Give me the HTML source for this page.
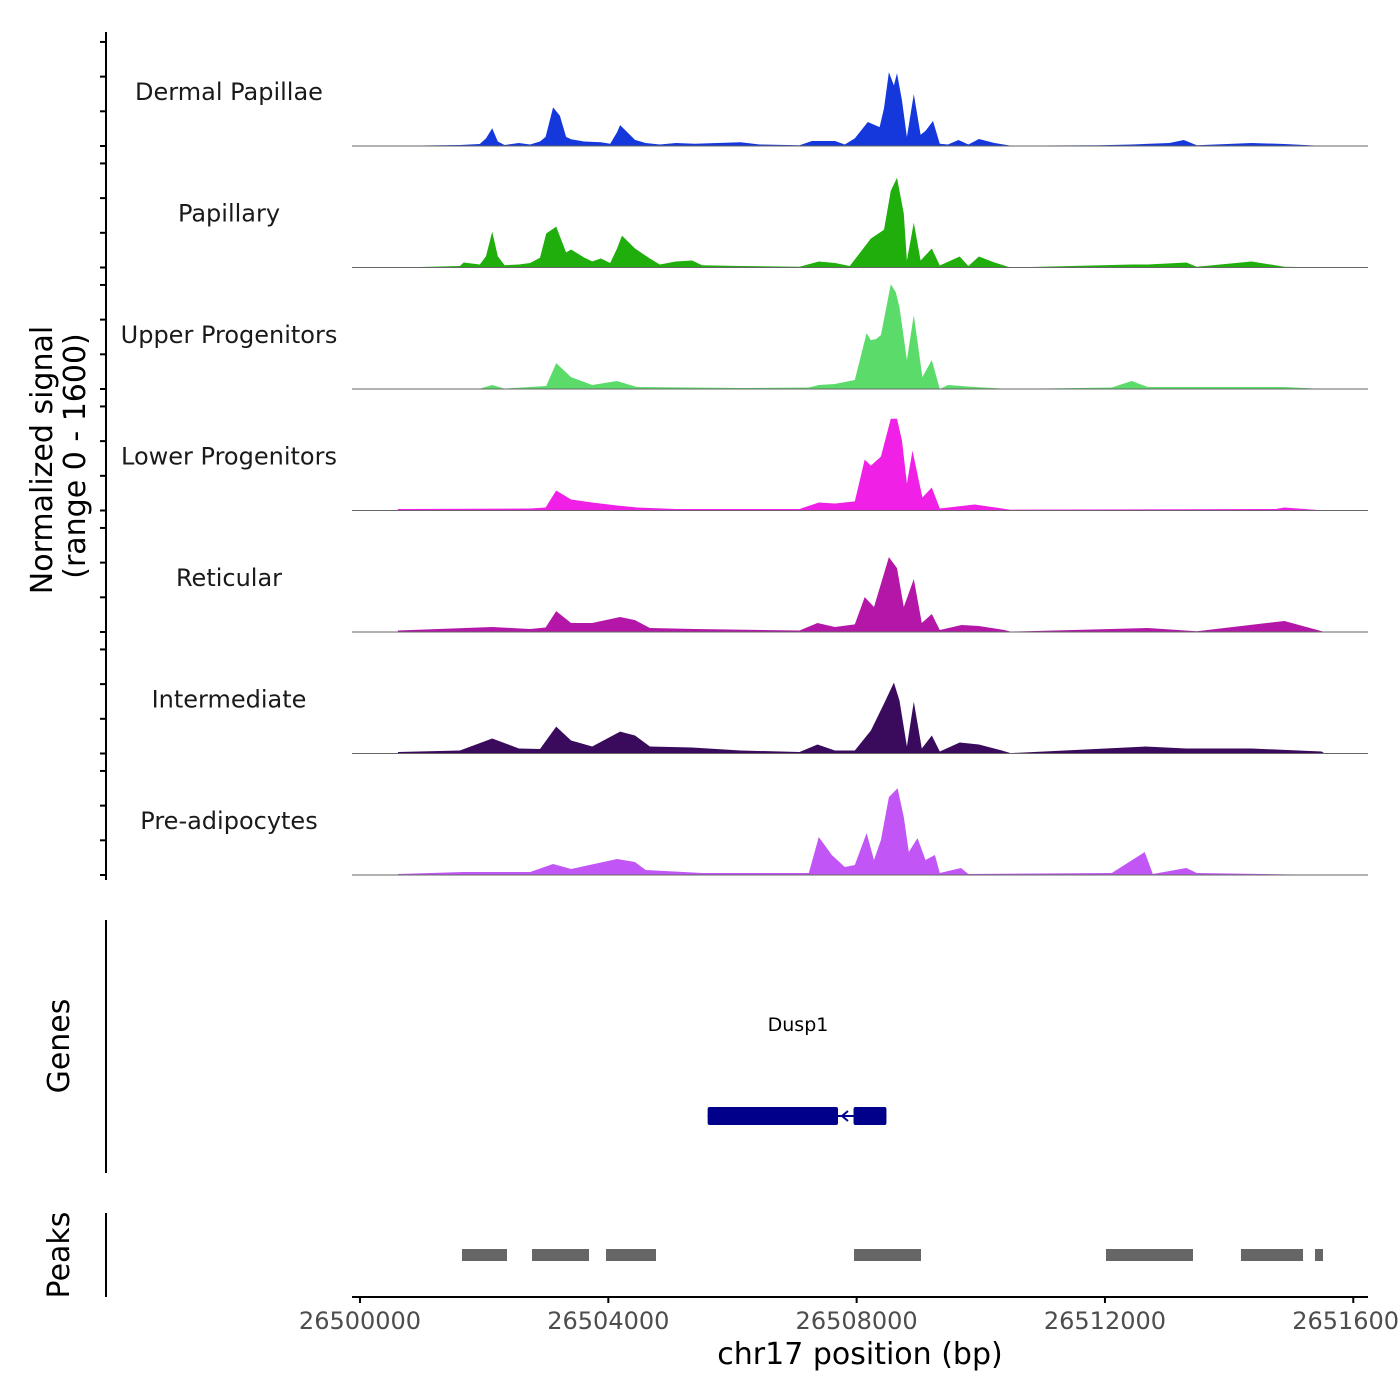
<!DOCTYPE html>
<html><head><meta charset="utf-8"><style>
body{margin:0;background:#fff;}
svg{display:block;font-family:"DejaVu Sans","Liberation Sans",sans-serif;}
</style></head><body>
<svg id="chart" width="1400" height="1400" viewBox="0 0 1400 1400" xmlns="http://www.w3.org/2000/svg">
<g id="tracks"></g>
<g id="yaxis"></g>
<text transform="translate(52,460) rotate(-90)" text-anchor="middle" font-size="30" fill="#000">Normalized signal</text>
<text transform="translate(85,456) rotate(-90)" text-anchor="middle" font-size="30" fill="#000">(range 0 - 1600)</text>
<line x1="106" y1="920" x2="106" y2="1173" stroke="#000" stroke-width="2"/>
<text transform="translate(69,1046) rotate(-90)" text-anchor="middle" font-size="30">Genes</text>
<g id="genes"></g>
<line x1="106" y1="1213" x2="106" y2="1297" stroke="#000" stroke-width="2"/>
<text transform="translate(69,1255) rotate(-90)" text-anchor="middle" font-size="30">Peaks</text>
<g id="peaks"></g>
<g id="xaxis"></g>
<text x="860" y="1364" text-anchor="middle" font-size="30">chr17 position (bp)</text>
</svg>
<script>
// ---- data ----
const trackNames = ["Dermal Papillae","Papillary","Upper Progenitors","Lower Progenitors","Reticular","Intermediate","Pre-adipocytes"];
const trackColors = ["#1538dc","#1fae0c","#5bdc6a","#f020e6","#b416a8","#3a0b5c","#c155f5"];
const dermalPapillae = [[0.61,0],[0.97,7],[1.61,13],[1.93,26],[2.03,100],[2.13,234],[2.22,60],[2.33,13],[2.56,40],[2.74,20],[2.90,60],[2.99,120],[3.11,510],[3.22,400],[3.32,120],[3.40,90],[3.61,60],[3.88,50],[4.03,30],[4.14,180],[4.19,277],[4.43,80],[4.60,40],[4.83,20],[5.09,40],[5.39,30],[6.13,50],[6.44,20],[7.08,10],[7.28,66],[7.65,66],[7.81,20],[7.97,100],[8.18,317],[8.37,250],[8.44,500],[8.52,977],[8.60,800],[8.65,964],[8.73,600],[8.81,119],[8.92,686],[9.03,150],[9.11,200],[9.23,330],[9.34,30],[9.47,20],[9.64,79],[9.80,20],[9.97,92],[10.22,40],[10.48,5],[11.91,10],[12.43,20],[13.04,40],[13.27,79],[13.48,10],[14.36,40],[14.89,26],[15.54,0]];
const papillary = [[0.61,0],[0.97,7],[1.61,20],[1.67,66],[1.93,40],[2.03,150],[2.13,475],[2.22,150],[2.33,30],[2.56,40],[2.74,60],[2.90,130],[3.00,450],[3.16,541],[3.32,200],[3.40,238],[3.61,132],[3.74,80],[3.88,119],[4.03,60],[4.14,250],[4.22,422],[4.43,251],[4.67,119],[4.83,40],[5.09,79],[5.35,92],[5.51,30],[6.13,20],[7.08,10],[7.39,79],[7.65,60],[7.89,20],[8.23,383],[8.44,500],[8.55,1016],[8.65,1188],[8.76,713],[8.81,92],[8.92,594],[9.03,92],[9.21,251],[9.34,26],[9.66,145],[9.80,20],[9.97,145],[10.22,66],[10.48,0],[12.43,40],[12.69,40],[13.31,66],[13.48,10],[14.36,79],[14.89,10],[15.54,0]];
const upperProgenitors = [[0.61,0],[1.93,5],[2.13,53],[2.33,5],[3.00,40],[3.16,343],[3.40,158],[3.74,53],[4.14,106],[4.46,26],[6.18,13],[7.23,20],[7.39,53],[7.65,66],[7.97,119],[8.16,739],[8.23,647],[8.31,660],[8.39,713],[8.55,1386],[8.63,1280],[8.69,1082],[8.81,383],[8.92,977],[9.06,158],[9.21,383],[9.34,0],[9.47,53],[9.90,26],[10.48,0],[12.11,20],[12.43,106],[12.69,26],[14.89,26],[15.54,0]];
const lowerProgenitors = [[0.61,20],[2.74,26],[2.99,40],[3.16,264],[3.40,145],[3.74,106],[4.14,66],[4.46,40],[5.09,20],[7.08,20],[7.39,106],[7.65,92],[7.97,120],[8.13,673],[8.23,594],[8.39,713],[8.55,1214],[8.65,1214],[8.73,924],[8.81,356],[8.90,792],[9.06,172],[9.21,304],[9.34,26],[9.90,79],[10.48,10],[14.75,20],[14.89,40],[15.54,0]];
const reticular = [[0.61,20],[2.13,66],[2.74,40],[2.99,60],[3.16,277],[3.40,119],[3.74,119],[4.19,198],[4.43,158],[4.67,53],[5.39,40],[7.08,20],[7.37,119],[7.65,66],[7.97,100],[8.13,462],[8.28,330],[8.52,990],[8.65,845],[8.76,330],[8.92,700],[9.05,119],[9.21,238],[9.34,26],[9.69,92],[9.97,79],[10.38,26],[10.48,5],[12.69,53],[13.48,10],[14.89,145],[15.54,0]];
const intermediate = [[0.61,20],[1.61,40],[2.13,198],[2.56,66],[2.90,60],[3.16,356],[3.40,172],[3.74,92],[4.19,290],[4.43,238],[4.67,92],[5.35,79],[6.13,40],[7.08,20],[7.37,119],[7.65,40],[7.97,40],[8.23,304],[8.44,660],[8.60,937],[8.69,700],[8.81,92],[8.92,686],[9.05,66],[9.21,238],[9.34,26],[9.66,145],[9.97,119],[10.34,40],[10.48,5],[12.65,92],[13.31,66],[14.36,66],[15.49,26],[15.54,0]];
const preAdipocytes = [[0.61,13],[1.67,40],[2.74,40],[3.11,145],[3.40,79],[4.14,211],[4.43,172],[4.60,66],[5.51,26],[7.23,26],[7.39,502],[7.60,264],[7.81,106],[7.97,132],[8.16,554],[8.28,198],[8.39,462],[8.52,1030],[8.66,1148],[8.76,766],[8.84,304],[8.98,488],[9.11,198],[9.26,264],[9.34,26],[9.68,92],[9.80,13],[12.11,26],[12.64,304],[12.77,13],[13.31,92],[13.48,26],[15.54,0]];
const trackData = [dermalPapillae,papillary,upperProgenitors,lowerProgenitors,reticular,intermediate,preAdipocytes];
const yTickValues = [0,500,1000,1500];
const xTicks = [26500000,26504000,26508000,26512000,26516000];
const xTickLabels = ["26500000","26504000","26508000","26512000","26516000"];
const peakStarts = [26501643,26502771,26503963,26507958,26512017,26514191,26515383];
const peakEnds = [26502368,26503689,26504768,26509037,26513418,26515190,26515512];
const geneName = "Dusp1";
const geneExons = [[26505600,26507700],[26507950,26508480]];
const geneStart = 26505600, geneEnd = 26508480;
const yMax = 1600;

// ---- scales ----
const NS="http://www.w3.org/2000/svg";
const X0=352, X1=1368;
function xs(bp){ return 360 + (bp-26500000)*0.06208; }
const trackH = 121.5, trackTop0 = 24.5;
function base(i){ return trackTop0 + (i+1)*trackH; }
function ys(i,v){ return base(i) - v/yMax*121; }
function yTick(i,v){ return base(i) - v/yMax*111; }
function mk(tag,attrs,parent){ const e=document.createElementNS(NS,tag); for(const k in attrs) e.setAttribute(k,attrs[k]); parent.appendChild(e); return e; }

const gT=document.getElementById('tracks');
trackData.forEach((d,i)=>{
  const g=mk('g',{},gT);
  
  
  let p='M'+xs(26500000+d[0][0]*1000).toFixed(1)+','+base(i);
  d.forEach(pt=>{ p+=' L'+xs(26500000+pt[0]*1000).toFixed(1)+','+ys(i,pt[1]).toFixed(1); });
  p+=' L'+xs(26500000+d[d.length-1][0]*1000).toFixed(1)+','+base(i)+' Z';
  const a=mk('path',{d:p,fill:trackColors[i]},g);
  
  
  const l=mk('line',{x1:X0,x2:X1,y1:base(i),y2:base(i),stroke:'#666','stroke-width':1},g);
  
  
  const t=mk('text',{x:229,y:base(i)-46,'text-anchor':'middle','font-size':24,fill:'#1a1a1a'},g);
  t.textContent=trackNames[i];
  
  
});

const gY=document.getElementById('yaxis');
const al=mk('line',{x1:106,x2:106,y1:32,y2:880,stroke:'#000','stroke-width':2},gY);


for(let i=0;i<7;i++){ yTickValues.forEach(v=>{ const y=yTick(i,v);
  const tk=mk('line',{x1:100,x2:106,y1:y,y2:y,stroke:'#000','stroke-width':2},gY);
  
  
});}

const gG=document.getElementById('genes');
const gl=mk('text',{x:798,y:1031,'text-anchor':'middle','font-size':19},gG);
gl.textContent=geneName;


const gi=mk('line',{x1:xs(geneStart),x2:xs(geneEnd),y1:1116,y2:1116,stroke:'#00008b','stroke-width':2},gG);


geneExons.forEach(e=>{
  const r=mk('rect',{x:xs(e[0]),y:1107,width:xs(e[1])-xs(e[0]),height:18,rx:2,fill:'#00008b'},gG);
  
  
});
const ar=mk('path',{d:'M842,1116 l6,-5 M842,1116 l6,5',stroke:'#00008b','stroke-width':2,fill:'none'},gG);



const gP=document.getElementById('peaks');
peakStarts.forEach((s,i)=>{
  const r=mk('rect',{x:xs(s),y:1249,width:xs(peakEnds[i])-xs(s),height:12,fill:'#666'},gP);
  
  
});

const gX=document.getElementById('xaxis');
const xl=mk('line',{x1:X0,x2:X1,y1:1297,y2:1297,stroke:'#000','stroke-width':2},gX);


xTicks.forEach((v,i)=>{
  const t=mk('line',{x1:xs(v),x2:xs(v),y1:1297,y2:1303,stroke:'#000','stroke-width':2},gX);
  
  
  const lb=mk('text',{x:xs(v),y:1329,'text-anchor':'middle','font-size':24,fill:'#4d4d4d'},gX);
  lb.textContent=xTickLabels[i];
  
  
});
</script>
</body></html>
